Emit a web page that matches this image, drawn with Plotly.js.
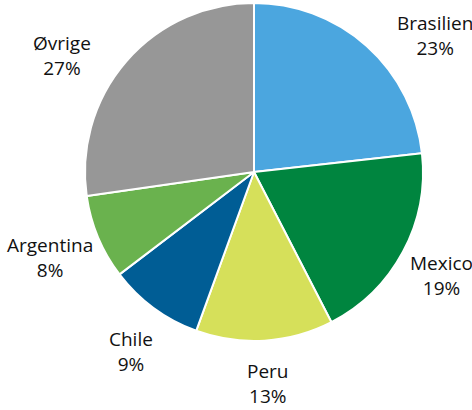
<!DOCTYPE html>
<html>
<head>
<meta charset="utf-8">
<script src="https://cdn.plot.ly/plotly-3.0.1.min.js"></script>
<style>html,body{margin:0;padding:0;background:#fff;}#chart{width:472px;height:410px;}</style>
</head>
<body>
<div id="chart"></div>
<script>
const categories = ["Brasilien", "Mexico", "Peru", "Chile", "Argentina", "Øvrige"];
const shares = [23, 19, 13, 9, 8, 27];
const colors = ["#4BA6DF", "#00853F", "#D6E05A", "#005D95", "#6AB24E", "#979797"];
// label anchor positions in pixels (layout only)
const labelPos = [[435, 36], [441, 275], [268, 383], [131, 351], [50, 257], [62, 55]];

const W = 472, H = 410;
const annotations = categories.map((c, i) => ({
  text: c + "<br>" + shares[i] + "%",
  x: labelPos[i][0] / W, y: 1 - labelPos[i][1] / H,
  xref: "paper", yref: "paper", xanchor: "center", yanchor: "middle",
  showarrow: false,
  font: {family: "Open Sans, sans-serif", size: 19, color: "#111111"}
}));

const trace = {
  type: "pie",
  labels: categories,
  values: shares,
  sort: false,
  direction: "clockwise",
  rotation: 0,
  textinfo: "none",
  hoverinfo: "label+percent",
  marker: {colors: colors, line: {color: "#ffffff", width: 2}},
  domain: {x: [85 / W, 423 / W], y: [1 - 341 / H, 1 - 3 / H]}
};

Plotly.newPlot("chart", [trace], {
  width: W, height: H,
  margin: {l: 0, r: 0, t: 0, b: 0},
  showlegend: false,
  paper_bgcolor: "#ffffff",
  annotations: annotations
}, {displayModeBar: false, staticPlot: true});
</script>
</body>
</html>
